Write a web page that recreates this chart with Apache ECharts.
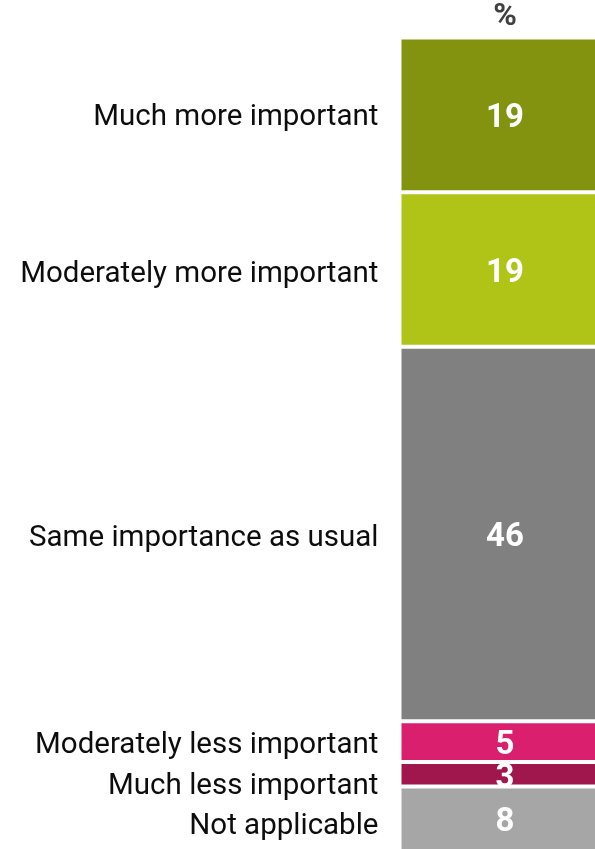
<!DOCTYPE html>
<html>
<head>
<meta charset="utf-8">
<script src="https://cdn.jsdelivr.net/npm/echarts@6/dist/echarts.min.js"></script>
<style>
  html, body { margin: 0; padding: 0; background: #ffffff; }
  #chart { width: 595px; height: 849px; }
</style>
</head>
<body>
<div id="chart"></div>
<script>
// Share of respondents by perceived importance (%)
const categories = [
  'Much more important',
  'Moderately more important',
  'Same importance as usual',
  'Moderately less important',
  'Much less important',
  'Not applicable'
];
const values = [19, 19, 46, 5, 3, 8];
const colors = ['#84930F', '#AFC416', '#808080', '#D91F6D', '#A0174D', '#A6A6A6'];
const axisCategory = ['%'];
// vertical nudges for side labels that would otherwise crowd together
const nameOffsets = [3, 5, 5, 4, 12, 8];

const chart = echarts.init(document.getElementById('chart'), null, { renderer: 'canvas' });

const valueSeries = categories.map((name, i) => ({
  name: name,
  type: 'bar',
  stack: 'values',
  barWidth: '100%',
  data: [values[i]],
  itemStyle: { color: colors[i], borderColor: '#ffffff', borderWidth: 2 },
  label: {
    show: true,
    position: 'inside',
    offset: [0, i === 4 ? 5 : 4],
    formatter: '{c}',
    color: '#ffffff',
    fontFamily: 'Roboto',
    fontWeight: 'bold',
    fontSize: 33
  },
  emphasis: { disabled: true }
}));

// transparent twin stack carrying the category names on the left
const nameSeries = categories.map((name, i) => ({
  name: name + ' ',
  type: 'bar',
  stack: 'names',
  barWidth: '100%',
  barGap: '-100%',
  data: [values[i]],
  itemStyle: { color: 'rgba(0,0,0,0)' },
  label: {
    show: true,
    position: 'left',
    distance: 21,
    offset: [0, nameOffsets[i]],
    formatter: name,
    color: '#0d0d0d',
    fontFamily: 'Roboto',
    fontSize: 29.5
  },
  emphasis: { disabled: true },
  silent: true
}));

chart.setOption({
  animation: false,
  grid: { left: 399.5, top: 37.5, width: 211, height: 814, outerBoundsMode: 'none', containLabel: false },
  xAxis: {
    type: 'category',
    position: 'top',
    data: axisCategory,
    axisLine: { show: false },
    axisTick: { show: false },
    axisLabel: {
      margin: 5,
      color: '#404040',
      fontFamily: 'Roboto',
      fontWeight: 'bold',
      fontSize: 32
    }
  },
  yAxis: {
    type: 'value',
    inverse: true,
    min: 0,
    max: 100,
    show: false,
    splitLine: { show: false }
  },
  series: valueSeries.concat(nameSeries)
});
</script>
</body>
</html>
